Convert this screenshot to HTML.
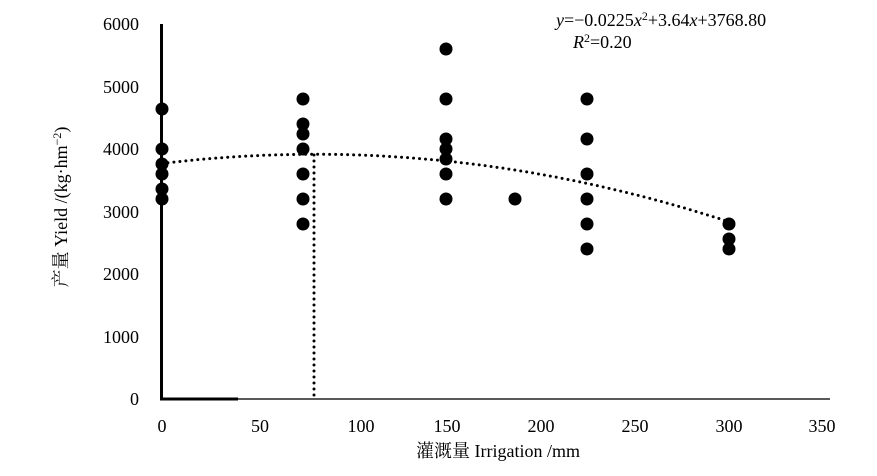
<!DOCTYPE html>
<html><head><meta charset="utf-8"><style>
body{margin:0;background:#fff}
svg text{font-family:"Liberation Serif","Noto Serif CJK SC",serif;fill:#000}
</style></head><body>
<svg width="877" height="471" viewBox="0 0 877 471" xmlns="http://www.w3.org/2000/svg">
<line x1="161.5" y1="24" x2="161.5" y2="400" stroke="#000" stroke-width="3"/>
<line x1="160" y1="399" x2="238" y2="399" stroke="#000" stroke-width="3"/>
<line x1="238" y1="399" x2="830" y2="399" stroke="#222" stroke-width="1.5"/>
<g font-size="18" text-anchor="end">
<text x="139" y="30">6000</text><text x="139" y="93">5000</text><text x="139" y="155">4000</text>
<text x="139" y="218">3000</text><text x="139" y="280">2000</text><text x="139" y="343">1000</text><text x="139" y="405">0</text>
</g>
<g font-size="18" text-anchor="middle">
<text x="162" y="432">0</text><text x="260" y="432">50</text><text x="361" y="432">100</text>
<text x="447" y="432">150</text><text x="541" y="432">200</text><text x="635" y="432">250</text>
<text x="729" y="432">300</text><text x="822" y="432">350</text>
</g>
<text x="498" y="457" font-size="18" text-anchor="middle">灌溉量 Irrigation /mm</text>
<text transform="translate(67,207) rotate(-90)" font-size="18" text-anchor="middle">产量 Yield /(kg·hm<tspan dy="-6" font-size="12">−2</tspan><tspan dy="6">)</tspan></text>
<text x="556" y="26" font-size="18"><tspan font-style="italic">y</tspan>=−0.0225<tspan font-style="italic">x</tspan><tspan dy="-6" font-size="12">2</tspan><tspan dy="6">+3.64</tspan><tspan font-style="italic">x</tspan>+3768.80</text>
<text x="573" y="48" font-size="18"><tspan font-style="italic">R</tspan><tspan dy="-6" font-size="12">2</tspan><tspan dy="6">=0.20</tspan></text>
<path d="M162,163.5 Q445.5,129.3 729,221.8" fill="none" stroke="#000" stroke-width="3" stroke-linecap="round" stroke-dasharray="0 6"/>
<line x1="314" y1="155" x2="314" y2="399" stroke="#000" stroke-width="3" stroke-linecap="round" stroke-dasharray="0 6"/>
<g fill="#000">
<circle cx="162" cy="109" r="6.5"/><circle cx="162" cy="149" r="6.5"/><circle cx="162" cy="164" r="6.5"/><circle cx="162" cy="174" r="6.5"/><circle cx="162" cy="189" r="6.5"/><circle cx="162" cy="199" r="6.5"/>
<circle cx="303" cy="99" r="6.5"/><circle cx="303" cy="124" r="6.5"/><circle cx="303" cy="134" r="6.5"/><circle cx="303" cy="149" r="6.5"/><circle cx="303" cy="174" r="6.5"/><circle cx="303" cy="199" r="6.5"/><circle cx="303" cy="224" r="6.5"/>
<circle cx="446" cy="49" r="6.5"/><circle cx="446" cy="99" r="6.5"/><circle cx="446" cy="139" r="6.5"/><circle cx="446" cy="149" r="6.5"/><circle cx="446" cy="159" r="6.5"/><circle cx="446" cy="174" r="6.5"/><circle cx="446" cy="199" r="6.5"/>
<circle cx="515" cy="199" r="6.5"/>
<circle cx="587" cy="99" r="6.5"/><circle cx="587" cy="139" r="6.5"/><circle cx="587" cy="174" r="6.5"/><circle cx="587" cy="199" r="6.5"/><circle cx="587" cy="224" r="6.5"/><circle cx="587" cy="249" r="6.5"/>
<circle cx="729" cy="224" r="6.5"/><circle cx="729" cy="239" r="6.5"/><circle cx="729" cy="249" r="6.5"/>
</g>
</svg>
</body></html>
